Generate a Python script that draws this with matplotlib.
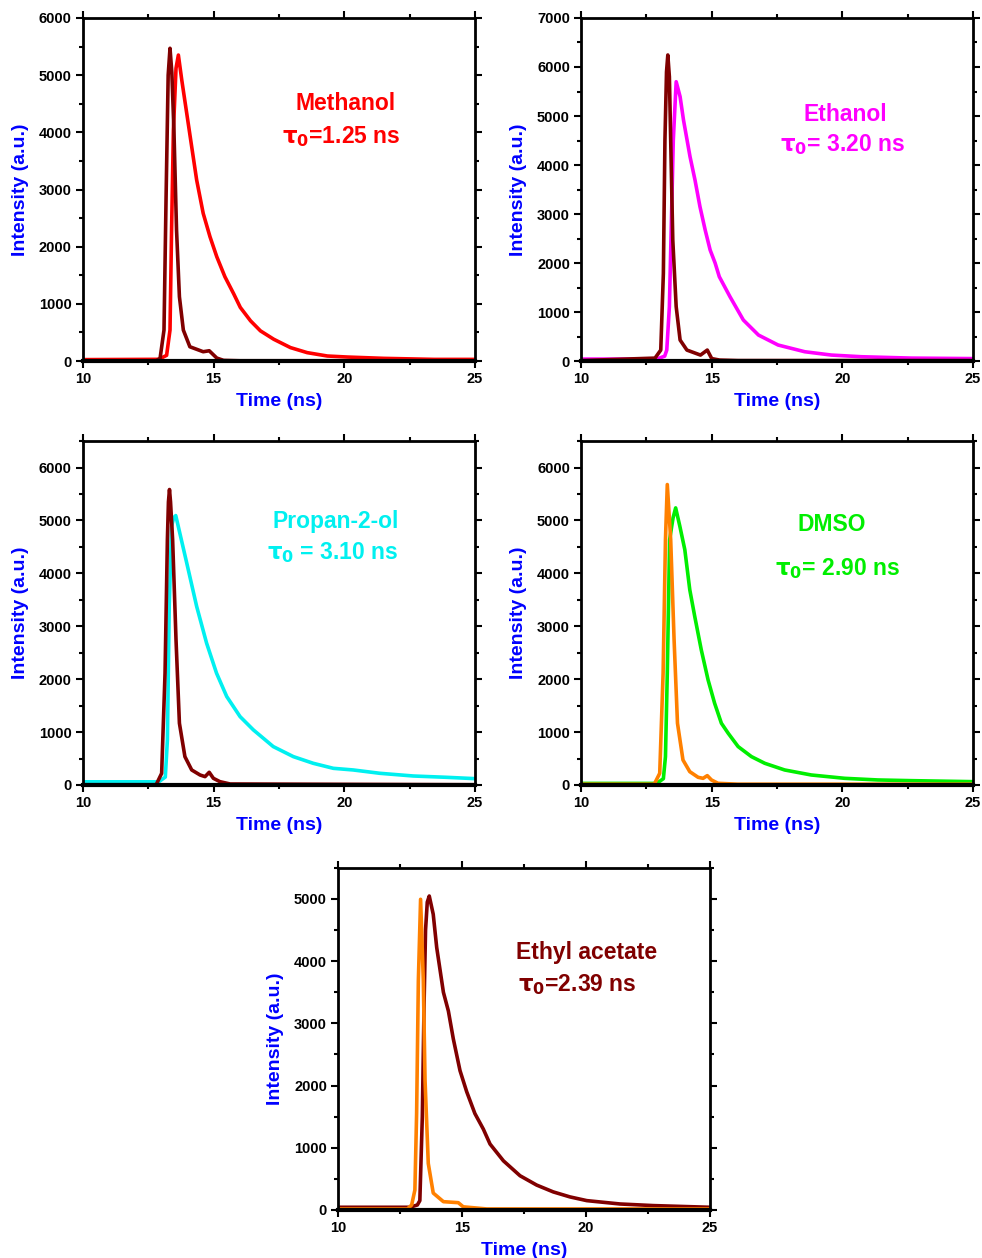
import matplotlib
matplotlib.use('Agg')
import matplotlib.pyplot as plt
from matplotlib.ticker import MultipleLocator

plt.rcParams['font.family'] = ['Liberation Sans', 'DejaVu Sans']
plt.rcParams['font.weight'] = 'bold'
plt.rcParams['mathtext.fontset'] = 'dejavusans'

# Methanol
meoh_t = [10, 12.9, 13.2, 13.33, 13.39, 13.46, 13.56, 13.65, 13.78, 13.97, 14.16, 14.35, 14.60,
          14.86, 15.12, 15.43, 15.77, 16.02, 16.41, 16.79, 17.30, 17.94, 18.58, 19.35, 20.12,
          21.52, 23.44, 25]
meoh_y = [25, 30, 100, 542, 2291, 4040, 5120, 5352, 4915, 4332, 3748, 3166, 2583,
          2174, 1824, 1475, 1173, 938, 704, 528, 381, 235, 147, 88, 70,
          47, 29, 29]
meoh_irf_t = [10, 12.8, 12.95, 13.10, 13.18, 13.26, 13.33, 13.40, 13.48, 13.58, 13.69, 13.84, 14.09,
              14.60, 14.83, 15.12, 15.38, 16, 25]
meoh_irf_y = [5, 5, 47, 542, 2874, 5000, 5470, 5050, 4040, 2291, 1125, 542, 250,
              163, 180, 52, 12, 5, 5]

# Ethanol
etoh_t = [10, 12.9, 13.2, 13.28, 13.38, 13.47, 13.53, 13.64, 13.79, 13.92, 14.17, 14.36, 14.55,
          14.75, 14.94, 15.13, 15.29, 15.70, 16.21, 16.79, 17.54, 18.56, 19.58, 20.73, 22.64, 25]
etoh_y = [40, 40, 100, 224, 1109, 3150, 4510, 5700, 5394, 4918, 4170, 3694, 3150,
          2673, 2265, 2000, 1721, 1312, 837, 530, 327, 190, 122, 88, 60, 50]
etoh_irf_t = [10, 12.83, 13.05, 13.15, 13.21, 13.27, 13.32, 13.38, 13.43, 13.51, 13.64, 13.79, 14.05,
              14.57, 14.83, 15.0, 15.3, 16, 25]
etoh_irf_y = [10, 60, 224, 1790, 4510, 5900, 6245, 5800, 4510, 2469, 1109, 429, 224,
              122, 224, 50, 20, 10, 10]

# Propan-2-ol
ipa_t = [10, 12.9, 13.15, 13.23, 13.30, 13.39, 13.47, 13.55, 13.97, 14.35, 14.73, 15.11, 15.50, 16.01,
         16.52, 17.28, 18.05, 18.81, 19.58, 20.34, 21.36, 22.64, 23.92, 25]
ipa_y = [60, 60, 150, 850, 3375, 4890, 5050, 5092, 4196, 3375, 2681, 2114, 1672, 1293,
         1041, 726, 536, 410, 315, 284, 221, 170, 145, 120]
ipa_irf_t = [10, 12.8, 13.01, 13.14, 13.23, 13.27, 13.31, 13.35, 13.43, 13.56, 13.69, 13.90, 14.16,
             14.48, 14.67, 14.83, 14.99, 15.24, 15.63, 25]
ipa_irf_y = [5, 5, 220, 2114, 4637, 5350, 5584, 5350, 4637, 2744, 1167, 536, 284,
             189, 158, 240, 126, 63, 19, 5]

# DMSO
dmso_t = [10, 12.9, 13.15, 13.23, 13.30, 13.39, 13.52, 13.62, 13.78, 13.97, 14.16, 14.35, 14.60, 14.86,
          15.11, 15.37, 15.63, 16.01, 16.52, 17.03, 17.79, 18.81, 20.09, 21.36, 22.64, 25]
dmso_y = [30, 30, 120, 536, 2114, 4637, 5047, 5237, 4890, 4448, 3691, 3186, 2555, 1987,
          1546, 1167, 978, 726, 536, 410, 284, 189, 126, 95, 82, 63]
dmso_irf_t = [10, 12.8, 13.01, 13.14, 13.23, 13.30, 13.43, 13.56, 13.69, 13.90, 14.16, 14.48, 14.67,
              14.83, 14.99, 15.24, 16, 25]
dmso_irf_y = [15, 15, 220, 2114, 4637, 5678, 4637, 2744, 1167, 473, 252, 145, 126,
              177, 95, 32, 15, 15]

# Ethyl acetate
etac_t = [10, 12.9, 13.2, 13.30, 13.40, 13.47, 13.53, 13.60, 13.68, 13.84, 13.98, 14.25, 14.45, 14.65,
          14.92, 15.19, 15.52, 15.86, 16.13, 16.67, 17.34, 18.01, 18.68, 19.35, 20.03, 21.37, 22.72,
          24.06, 25]
etac_y = [43, 43, 80, 150, 1500, 3300, 4500, 4950, 5048, 4754, 4220, 3500, 3200, 2750,
          2240, 1900, 1550, 1300, 1060, 790, 550, 400, 290, 210, 150, 96, 70,
          54, 43]
etac_irf_t = [10, 12.8, 12.97, 13.10, 13.17, 13.24, 13.33, 13.44, 13.51, 13.64, 13.84, 14.25, 14.85,
              15.05, 16, 25]
etac_irf_y = [16, 16, 80, 320, 1550, 3686, 4995, 3686, 2083, 748, 272, 133, 117,
              50, 16, 16]

panels = [
    # rect, ylim, decay, irf, colours, name, tau text, name pos, tau pos
    ([0.0845, 0.7130, 0.3992, 0.2727], 6000, (meoh_t, meoh_y), (meoh_irf_t, meoh_irf_y),
     '#FF0000', '#800000', 'Methanol', r'$\mathbf{\tau_0}$=1.25 ns', (0.67, 0.75), (0.66, 0.655)),
    ([0.5917, 0.7130, 0.3992, 0.2727], 7000, (etoh_t, etoh_y), (etoh_irf_t, etoh_irf_y),
     '#FF00FF', '#800000', 'Ethanol', r'$\mathbf{\tau_0}$= 3.20 ns', (0.673, 0.72), (0.668, 0.632)),
    ([0.0845, 0.3760, 0.3992, 0.2734], 6500, (ipa_t, ipa_y), (ipa_irf_t, ipa_irf_y),
     '#00F0F0', '#800000', 'Propan-2-ol', r'$\mathbf{\tau_0}$ = 3.10 ns', (0.645, 0.767), (0.638, 0.676)),
    ([0.5917, 0.3760, 0.3992, 0.2734], 6500, (dmso_t, dmso_y), (dmso_irf_t, dmso_irf_y),
     '#00EE00', '#FF8000', 'DMSO', r'$\mathbf{\tau_0}$= 2.90 ns', (0.64, 0.756), (0.653, 0.63)),
    ([0.3442, 0.0382, 0.3788, 0.2719], 5500, (etac_t, etac_y), (etac_irf_t, etac_irf_y),
     '#800000', '#FF8000', 'Ethyl acetate', r'$\mathbf{\tau_0}$=2.39 ns', (0.667, 0.754), (0.642, 0.66)),
]

fig = plt.figure(figsize=(9.82, 12.58), dpi=100)

for rect, ymax, decay, irf, c_dec, c_irf, name, tau, npos, tpos in panels:
    ax = fig.add_axes(rect)
    ax.plot(decay[0], decay[1], color=c_dec, lw=2.6, solid_joinstyle='round')
    ax.plot(irf[0], irf[1], color=c_irf, lw=2.6, solid_joinstyle='round')
    ax.set_xlim(10, 25)
    ax.set_ylim(0, ymax)
    ax.xaxis.set_major_locator(MultipleLocator(5))
    ax.xaxis.set_minor_locator(MultipleLocator(2.5))
    ax.yaxis.set_major_locator(MultipleLocator(1000))
    ax.yaxis.set_minor_locator(MultipleLocator(500))
    ax.tick_params(which='both', direction='out', top=True, right=True, width=1.5,
                   labelsize=10.5, pad=3)
    ax.tick_params(which='major', length=5)
    ax.tick_params(which='minor', length=3)
    for lab in ax.get_xticklabels() + ax.get_yticklabels():
        lab.set_fontweight('bold')
    for sp in ax.spines.values():
        sp.set_linewidth(2)
    ax.spines['bottom'].set_linewidth(3)
    ax.set_xlabel('Time (ns)', color='#0000FF', fontsize=14, fontweight='bold', labelpad=5)
    ax.set_ylabel('Intensity (a.u.)', color='#0000FF', fontsize=14, fontweight='bold', labelpad=7)
    ax.text(npos[0], npos[1], name, transform=ax.transAxes, color=c_dec, fontsize=16.5,
            fontweight='bold', ha='center', va='center')
    ax.text(tpos[0], tpos[1], tau, transform=ax.transAxes, color=c_dec, fontsize=16.5,
            fontweight='bold', ha='center', va='center')

fig.savefig('out.png', dpi=100)
